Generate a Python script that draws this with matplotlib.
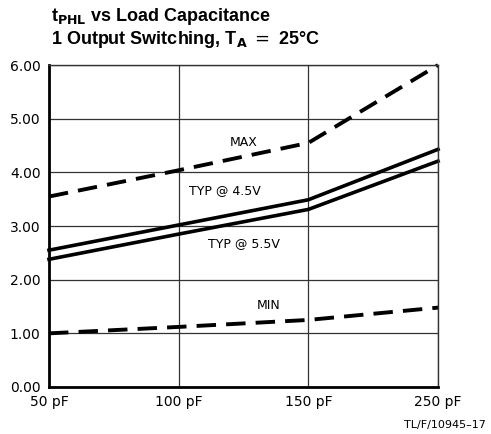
import matplotlib
matplotlib.use("Agg")
import matplotlib.pyplot as plt

categories = ["50 pF", "100 pF", "150 pF", "250 pF"]
y_ticks = [0.0, 1.0, 2.0, 3.0, 4.0, 5.0, 6.0]
max_vals = [3.55, 4.04, 4.55, 6.0]
typ45_vals = [2.55, 3.02, 3.49, 4.43]
typ55_vals = [2.38, 2.85, 3.31, 4.21]
min_vals = [1.0, 1.12, 1.25, 1.48]

fig = plt.figure(figsize=(4.91, 4.34), dpi=100)
ax = fig.add_axes([0.0998, 0.1083, 0.7923, 0.7417])
x = list(range(len(categories)))

ax.plot(x, max_vals, color="black", lw=2.8, dashes=(5, 2.6), clip_on=False)
ax.plot(x, typ45_vals, color="black", lw=2.6, clip_on=False)
ax.plot(x, typ55_vals, color="black", lw=2.6, clip_on=False)
ax.plot(x, min_vals, color="black", lw=2.8, dashes=(5, 2.6), clip_on=False)

ax.set_xlim(0, 3)
ax.set_ylim(0, 6)
ax.set_xticks(x)
ax.set_xticklabels(categories)
ax.set_yticks(y_ticks)
ax.set_yticklabels([f"{v:.2f}" for v in y_ticks])
ax.tick_params(length=0, labelsize=10, pad=6)
ax.grid(True, color="#333333", lw=0.9)
ax.set_axisbelow(True)
for s in ["left", "bottom"]:
    ax.spines[s].set_linewidth(2)
for s in ["top", "right"]:
    ax.spines[s].set_linewidth(1)
    ax.spines[s].set_color("#333333")

ax.text(1.5, 4.56, "MAX", ha="center", va="center", fontsize=9)
ax.text(1.36, 3.67, "TYP @ 4.5V", ha="center", va="center", fontsize=9)
ax.text(1.5, 2.68, "TYP @ 5.5V", ha="center", va="center", fontsize=9)
ax.text(1.69, 1.51, "MIN", ha="center", va="center", fontsize=9)

fig.text(0.104, 0.963, r"t$_{\mathbf{PHL}}$ vs Load Capacitance", fontsize=13, fontweight="bold",
         family="Liberation Sans", ha="left", va="center")
fig.text(0.104, 0.910, r"1 Output Switching, T$_{\mathbf{A}}$ $=$ 25°C", fontsize=13, fontweight="bold",
         family="Liberation Sans", ha="left", va="center")
fig.text(0.99, 0.02, "TL/F/10945–17", fontsize=8, ha="right", va="center")

fig.savefig("out.png", dpi=100)
